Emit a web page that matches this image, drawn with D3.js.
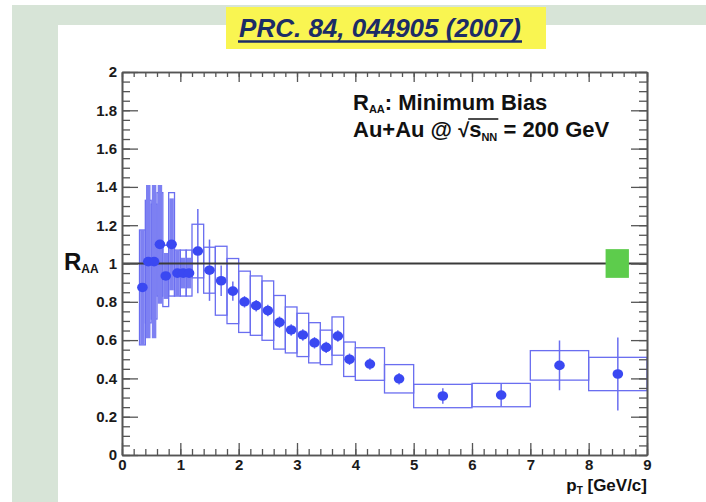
<!DOCTYPE html>
<html>
<head>
<meta charset="utf-8">
<script src="https://cdn.jsdelivr.net/npm/d3@7"></script>
<style>
body { margin: 0; background: #fff; }
text { font-family: "Liberation Sans", Arial, Helvetica, sans-serif; font-weight: bold; white-space: pre; }
</style>
</head>
<body>
<svg id="view"></svg>
<script>
// bins (pT, GeV/c)
var ptLo = [0.3,0.4,0.5,0.6,0.7,0.8,0.9,1.0,1.1,1.2,1.4,1.6,1.8,2.0,2.2,2.4,2.6,2.8,3.0,3.2,3.4,3.6,3.8,4.0,4.5,5,6,7,8];
var ptHi = [0.4,0.5,0.6,0.7,0.8,0.9,1.0,1.1,1.2,1.4,1.6,1.8,2.0,2.2,2.4,2.6,2.8,3.0,3.2,3.4,3.6,3.8,4.0,4.5,5,6,7,8,9];
var pt   = [0.35,0.45,0.55,0.65,0.75,0.85,0.95,1.05,1.15,1.3,1.5,1.7,1.9,2.1,2.3,2.5,2.7,2.9,3.1,3.3,3.5,3.7,3.9,4.25,4.75,5.5,6.5,7.5,8.5];
var raa  = [0.875,1.01,1.01,1.10,0.935,1.10,0.95,0.95,0.95,1.065,0.965,0.91,0.856,0.80,0.78,0.754,0.693,0.653,0.627,0.586,0.562,0.621,0.50,0.475,0.398,0.308,0.313,0.468,0.423];
var stat = [0.30,0.40,0.40,0.31,0.12,0.24,0.12,0.08,0.08,0.22,0.16,0.08,0.05,0.03,0.03,0.03,0.03,0.03,0.03,0.03,0.03,0.03,0.03,0.03,0.03,0.04,0.06,0.13,0.19];
var sys  = [0.30,0.32,0.30,0.27,0.16,0.27,0.12,0.12,0.12,0.14,0.12,0.18,0.17,0.16,0.155,0.155,0.14,0.12,0.113,0.105,0.09,0.10,0.09,0.085,0.074,0.061,0.061,0.077,0.087];

// global normalisation uncertainty (green box)
var normLo = 8.29, normHi = 8.69, normErr = 0.075;

var xTicks = [0,1,2,3,4,5,6,7,8,9];
var yTicks = [0,0.2,0.4,0.6,0.8,1,1.2,1.4,1.6,1.8,2];
var xMinor = d3.range(0,46).map(i => i*0.2);
var yMinor = d3.range(0,41).map(i => i*0.05);

var W = 706, H = 502;
var svg = d3.select("#view").attr("width", W).attr("height", H);

// slide background
svg.append("rect").attr("x",12).attr("y",5).attr("width",W-12).attr("height",H-5).attr("fill","#d7e4d7");
svg.append("rect").attr("x",58).attr("y",25).attr("width",W-58).attr("height",H-25).attr("fill","#fff");

// title
svg.append("rect").attr("x",226).attr("y",7).attr("width",320).attr("height",42).attr("fill","#f9f551");
svg.append("text").attr("x",380).attr("y",37).attr("text-anchor","middle")
	.attr("font-size",26).attr("font-style","italic").attr("fill","#1c2c66")
	.text("PRC. 84, 044905 (2007)");
svg.append("line").attr("x1",238).attr("x2",522).attr("y1",41.5).attr("y2",41.5)
	.attr("stroke","#1c2c66").attr("stroke-width",2.5);

var x = d3.scaleLinear().domain([0,9]).range([122,647]);
var y = d3.scaleLinear().domain([0,2]).range([455,72]);

var g = svg.append("g");
var blue = "#3a48f2", boxCol = "#6a6ef0";

// systematic boxes
g.append("g").selectAll("rect")
	.data(pt.map((d,i) => i))
	.join("rect")
	.attr("x", i => x(ptLo[i]))
	.attr("width", i => x(ptHi[i]) - x(ptLo[i]))
	.attr("y", i => y(raa[i] + sys[i]))
	.attr("height", i => y(raa[i] - sys[i]) - y(raa[i] + sys[i]))
	.attr("fill","none").attr("stroke",boxCol).attr("stroke-width",1.3);

// statistical error bars (narrow bins look filled in the original)
g.append("g").selectAll("line")
	.data(pt.map((d,i) => i))
	.join("line")
	.attr("x1", i => x(pt[i])).attr("x2", i => x(pt[i]))
	.attr("y1", i => y(raa[i] + stat[i]))
	.attr("y2", i => y(raa[i] - stat[i]))
	.attr("stroke", i => (ptHi[i]-ptLo[i]) < 0.15 ? "#7d80f2" : boxCol)
	.attr("stroke-width", i => (ptHi[i]-ptLo[i]) < 0.15 ? 4.5 : 1.5);

// unity line
svg.append("line").attr("x1",x(0)).attr("x2",x(9)).attr("y1",y(1)).attr("y2",y(1))
	.attr("stroke","#3a3a3a").attr("stroke-width",1.8);

// normalisation box
svg.append("rect").attr("x",x(normLo)).attr("width",x(normHi)-x(normLo))
	.attr("y",y(1+normErr)).attr("height",y(1-normErr)-y(1+normErr))
	.attr("fill","#5dcc4c");

// markers
svg.append("g").selectAll("ellipse")
	.data(pt.map((d,i) => i))
	.join("ellipse")
	.attr("cx", i => x(pt[i])).attr("cy", i => y(raa[i])).attr("rx",5.3).attr("ry",4.8)
	.attr("fill",blue);

// axes, ROOT style ticks inside on all four sides
function styleAxis(a){
	a.select(".domain").attr("stroke","#555").attr("stroke-width",1.6);
	a.selectAll(".tick line").attr("stroke","#555").attr("stroke-width",1.3);
	a.selectAll(".tick text").attr("font-size",15).attr("fill","#1a1a1a")
		.attr("font-family","'Liberation Sans', Arial, sans-serif").attr("font-weight","bold");
}
var fmt = d3.format("~g");

styleAxis(svg.append("g").attr("transform","translate(0,"+y(0)+")")
	.call(d3.axisBottom(x).tickValues(xMinor).tickSize(-6).tickSizeOuter(0).tickFormat("")));
styleAxis(svg.append("g").attr("transform","translate(0,"+y(0)+")")
	.call(d3.axisBottom(x).tickValues(xTicks).tickSize(-12).tickSizeOuter(0).tickPadding(4).tickFormat(fmt)));
styleAxis(svg.append("g").attr("transform","translate(0,"+y(2)+")")
	.call(d3.axisTop(x).tickValues(xMinor).tickSize(-5).tickSizeOuter(0).tickFormat("")));
styleAxis(svg.append("g").attr("transform","translate(0,"+y(2)+")")
	.call(d3.axisTop(x).tickValues(xTicks).tickSize(-10).tickSizeOuter(0).tickFormat("")));

styleAxis(svg.append("g").attr("transform","translate("+x(0)+",0)")
	.call(d3.axisLeft(y).tickValues(yMinor).tickSize(-8).tickSizeOuter(0).tickFormat("")));
styleAxis(svg.append("g").attr("transform","translate("+x(0)+",0)")
	.call(d3.axisLeft(y).tickValues(yTicks).tickSize(-16).tickSizeOuter(0).tickPadding(5).tickFormat(fmt)));
styleAxis(svg.append("g").attr("transform","translate("+x(9)+",0)")
	.call(d3.axisRight(y).tickValues(yMinor).tickSize(-8).tickSizeOuter(0).tickFormat("")));
styleAxis(svg.append("g").attr("transform","translate("+x(9)+",0)")
	.call(d3.axisRight(y).tickValues(yTicks).tickSize(-16).tickSizeOuter(0).tickFormat("")));

// y title R_AA
var yt = svg.append("text").attr("x",64).attr("y",270).attr("font-size",24).attr("fill","#111");
yt.append("tspan").text("R");
yt.append("tspan").attr("font-size",12).attr("dy",3).text("AA");

// x title p_T [GeV/c]
var xt = svg.append("text").attr("x",x(9)).attr("y",491).attr("text-anchor","end").attr("font-size",17).attr("fill","#111");
xt.append("tspan").text("p");
xt.append("tspan").attr("font-size",10).attr("dy",3).text("T");
xt.append("tspan").attr("dy",-3).text(" [GeV/c]");

// legend text
var l1 = svg.append("text").attr("x",353).attr("y",110).attr("font-size",22).attr("fill","#111");
l1.append("tspan").text("R");
l1.append("tspan").attr("font-size",11).attr("dy",3).text("AA");
l1.append("tspan").attr("dy",-3).text(": Minimum Bias");

var cx = 353, base2 = 137;
function piece(str, size, dy){
	var t = svg.append("text").attr("x",cx).attr("y",base2 + (dy||0))
		.attr("font-size",size).attr("fill","#111").text(str);
	var w = t.node().getComputedTextLength();
	cx += w;
	return w;
}
piece("Au+Au @ ",22);
piece("\u221A",20);
var ov0 = cx;
piece("s",22);
piece("NN",11,4);
var ov1 = cx;
svg.append("line").attr("x1",ov0-1).attr("x2",ov1+1).attr("y1",base2-18).attr("y2",base2-18)
	.attr("stroke","#111").attr("stroke-width",1.5);
piece(" = 200 GeV",22);
</script>
</body>
</html>
